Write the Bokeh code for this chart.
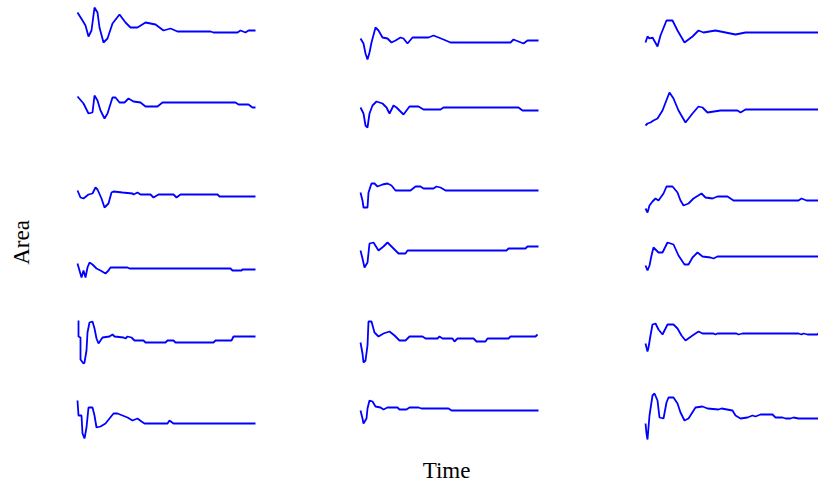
from bokeh.plotting import figure
from bokeh.models import Range1d, Label
from bokeh.embed import file_html
from bokeh.resources import INLINE
import math

# ---- data: time (relative to trace start) and area (relative to trace baseline) ----
t_r1c1 = [0, 5, 8, 11, 14, 17, 20, 22, 26, 30, 35, 42, 48, 53, 60, 68, 78, 86, 93, 100, 133, 136, 160, 163, 168, 171, 178]
v_r1c1 = [19, 11, 6, -5, 1, 24, 19, 4, -11, -7, 8, 17, 9, 4, 4, 9, 7, 1, 3, 0, 0, -1, -1, 1, -1, 1, 1]

t_r2c1 = [0, 6, 11, 15, 17, 20, 23, 27, 30, 35, 38, 42, 47, 51, 56, 63, 68, 80, 85, 158, 161, 171, 175, 178]
v_r2c1 = [6, -1, -11, -10, 7, 2, -8, -16, -11, 5, 5, 0, 0, 4, 1, 0, -4, -4, 0, 0, -2, -2, -5, -5]

t_r3c1 = [0, 3, 6, 11, 15, 18, 20, 24, 27, 31, 34, 36, 45, 55, 56, 60, 63, 73, 76, 81, 96, 99, 103, 140, 142, 178]
v_r3c1 = [4, -3, -4, 0, 1, 7, 5, -4, -13, -9, 2, 3, 2, 1, 0, 2, 0, 0, -3, 0, 0, -3, 0, 0, -2, -2]

t_r4c1 = [0, 2, 4, 6, 8, 10, 12, 15, 19, 23, 28, 31, 33, 50, 52, 153, 155, 164, 165, 178]
v_r4c1 = [5, -2, -9, -2, -9, 1, 6, 4, 0, -2, -5, -2, 1, 1, 0, 0, -2, -2, -1, -1]

t_r5c1 = [1, 1, 3, 3, 6, 7, 9, 10, 12, 15, 17, 19, 21, 25, 32, 35, 37, 46, 48, 50, 54, 57, 66, 68, 88, 90, 96, 98, 136, 138, 154, 156, 178]
v_r5c1 = [20, 4, 3, -19, -23, -22, -10, 8, 18, 19, 12, 2, -3, 3, 4, 6, 4, 3, 2, 4, 3, 0, 0, -2, -2, 0, 0, -2, -2, 0, 0, 4, 4]

t_r6c1 = [0, 1, 4, 5, 7, 9, 11, 15, 17, 19, 23, 28, 32, 36, 40, 45, 50, 55, 60, 64, 67, 90, 92, 96, 178]
v_r6c1 = [23, 8, 8, -10, -15, -4, 16, 16, 8, -4, -3, 0, 5, 10, 10, 8, 6, 3, 5, 2, 0, 0, 3, 0, 0]

t_r1c2 = [0, 3, 5, 7, 9, 11, 15, 18, 22, 27, 31, 35, 40, 43, 47, 52, 68, 73, 78, 83, 90, 150, 153, 158, 163, 167, 178]
v_r1c2 = [4, -1, -11, -17, -10, 0, 15, 12, 5, 4, 0, 2, 5, 4, -1, 5, 5, 7, 5, 3, 0, 0, 3, 1, -1, 2, 2]

t_r2c2 = [0, 3, 5, 7, 9, 12, 16, 22, 26, 29, 33, 36, 43, 49, 58, 63, 80, 83, 158, 162, 178]
v_r2c2 = [0, -6, -18, -20, -6, 2, 6, 4, 0, -6, 2, 0, -7, 1, 1, -2, -2, 0, 0, -3, -3]

t_r3c2 = [0, 2, 3, 7, 8, 11, 14, 17, 22, 27, 31, 35, 50, 55, 60, 63, 73, 76, 80, 85, 178]
v_r3c2 = [-2, -10, -17, -17, -2, 7, 7, 4, 6, 7, 5, 0, 0, 4, 4, 2, 2, 4, 3, 0, 0]

t_r4c2 = [0, 2, 4, 7, 9, 13, 18, 23, 27, 32, 38, 45, 47, 146, 148, 165, 167, 178]
v_r4c2 = [0, -8, -17, -12, 7, 8, 0, 4, 8, 3, -3, -3, 0, 0, 2, 2, 4, 4]

t_r5c2 = [0, 2, 3, 5, 7, 8, 11, 14, 18, 23, 29, 34, 39, 45, 49, 62, 65, 77, 79, 82, 92, 94, 97, 113, 116, 125, 127, 148, 150, 175, 177]
v_r5c2 = [-4, -15, -24, -22, -7, 17, 17, 6, 2, 5, 7, 3, -2, -2, 2, 2, 0, 0, 2, 0, 0, -3, 0, 0, -3, -3, 0, 0, 2, 2, 4]

t_r6c2 = [0, 2, 3, 6, 7, 9, 12, 15, 20, 23, 27, 37, 39, 46, 49, 58, 61, 88, 91, 178]
v_r6c2 = [-2, -10, -15, -10, 0, 8, 7, 2, 1, -1, 1, 1, -1, -1, 1, 1, 0, 0, -2, -2]

t_r1c3 = [0, 2, 4, 7, 12, 15, 21, 27, 32, 39, 47, 53, 58, 70, 80, 90, 100, 173]
v_r1c3 = [-10, -4, -6, -5, -14, -3, 12, 12, 2, -10, -4, 2, 0, 2, 0, -2, 0, 0]

t_r2c3 = [0, 2, 5, 8, 12, 17, 22, 24, 28, 33, 40, 47, 53, 57, 62, 75, 92, 95, 100, 173]
v_r2c3 = [-16, -14, -13, -11, -9, -1, 12, 17, 11, -1, -13, -4, 3, 2, -3, -1, -1, -3, 0, 0]

t_r3c3 = [0, 2, 4, 7, 10, 13, 18, 21, 27, 32, 35, 38, 43, 48, 56, 60, 67, 72, 82, 88, 153, 156, 161, 173]
v_r3c3 = [-8, -12, -5, -1, 2, 0, 7, 14, 14, 8, 0, -5, -3, 2, 7, 3, 2, 4, 4, 0, 0, 2, 0, 0]

t_r4c3 = [0, 2, 4, 6, 8, 13, 17, 22, 28, 33, 39, 43, 47, 52, 57, 65, 68, 72, 173]
v_r4c3 = [-9, -14, -9, 1, 9, 4, 4, 14, 12, 1, -8, -8, -1, 4, 0, -1, -2, 0, 0]

t_r5c3 = [0, 2, 3, 5, 7, 10, 13, 17, 22, 28, 32, 36, 40, 47, 53, 57, 68, 70, 72, 91, 93, 97, 153, 156, 158, 162, 172, 173]
v_r5c3 = [-10, -18, -14, -2, 9, 10, 4, -1, 9, 9, 5, -2, -7, -2, 2, 0, 0, -1, 0, 0, -1, 0, 0, -1, 0, -1, -1, 0]

t_r6c3 = [0, 1, 2, 4, 7, 9, 12, 14, 18, 21, 23, 28, 32, 35, 39, 43, 50, 57, 62, 73, 76, 87, 90, 95, 102, 107, 110, 115, 127, 130, 137, 140, 145, 148, 153, 173]
v_r6c3 = [-5, -15, -21, 3, 23, 25, 18, 1, 0, 16, 21, 21, 15, 6, -2, 0, 11, 12, 10, 9, 10, 8, 3, 0, 1, 3, 2, 4, 4, 1, 1, 0, 0, 1, 0, 0]

x_label = "Time"
y_label = "Area"

traces = [
    [(t_r1c1, v_r1c1), (t_r2c1, v_r2c1), (t_r3c1, v_r3c1), (t_r4c1, v_r4c1), (t_r5c1, v_r5c1), (t_r6c1, v_r6c1)],
    [(t_r1c2, v_r1c2), (t_r2c2, v_r2c2), (t_r3c2, v_r3c2), (t_r4c2, v_r4c2), (t_r5c2, v_r5c2), (t_r6c2, v_r6c2)],
    [(t_r1c3, v_r1c3), (t_r2c3, v_r2c3), (t_r3c3, v_r3c3), (t_r4c3, v_r4c3), (t_r5c3, v_r5c3), (t_r6c3, v_r6c3)],
]

# ---- layout (panel placement) ----
W, H = 818, 484
col_x0 = [77, 360, 645]
row_base = [
    [31, 102, 194, 268, 340, 423],
    [42, 107, 190, 250, 338, 408],
    [32, 109, 200, 256, 333, 418],
]

p = figure(width=W, height=H, output_backend="svg", toolbar_location=None,
           x_range=Range1d(0, W), y_range=Range1d(0, H),
           x_axis_location=None, y_axis_location=None, min_border=0)
p.outline_line_color = None
p.xgrid.visible = False
p.ygrid.visible = False
p.background_fill_color = "white"
p.border_fill_color = "white"

for c, col in enumerate(traces):
    for r, (t, v) in enumerate(col):
        xs = [col_x0[c] + ti for ti in t]
        ys = [H - row_base[c][r] + vi for vi in v]
        p.line(xs, ys, line_color="#0000FF", line_width=1.8)

p.add_layout(Label(x=446, y=H - 470, text=x_label, text_align="center", text_baseline="middle",
                   text_font="Liberation Serif", text_font_size="23px", text_color="black"))
p.add_layout(Label(x=21, y=H - 242, text=y_label, text_align="center", text_baseline="middle",
                   angle=math.pi / 2, text_font="Liberation Serif", text_font_size="23px", text_color="black"))

open("out.html", "w").write(file_html(p, INLINE))
